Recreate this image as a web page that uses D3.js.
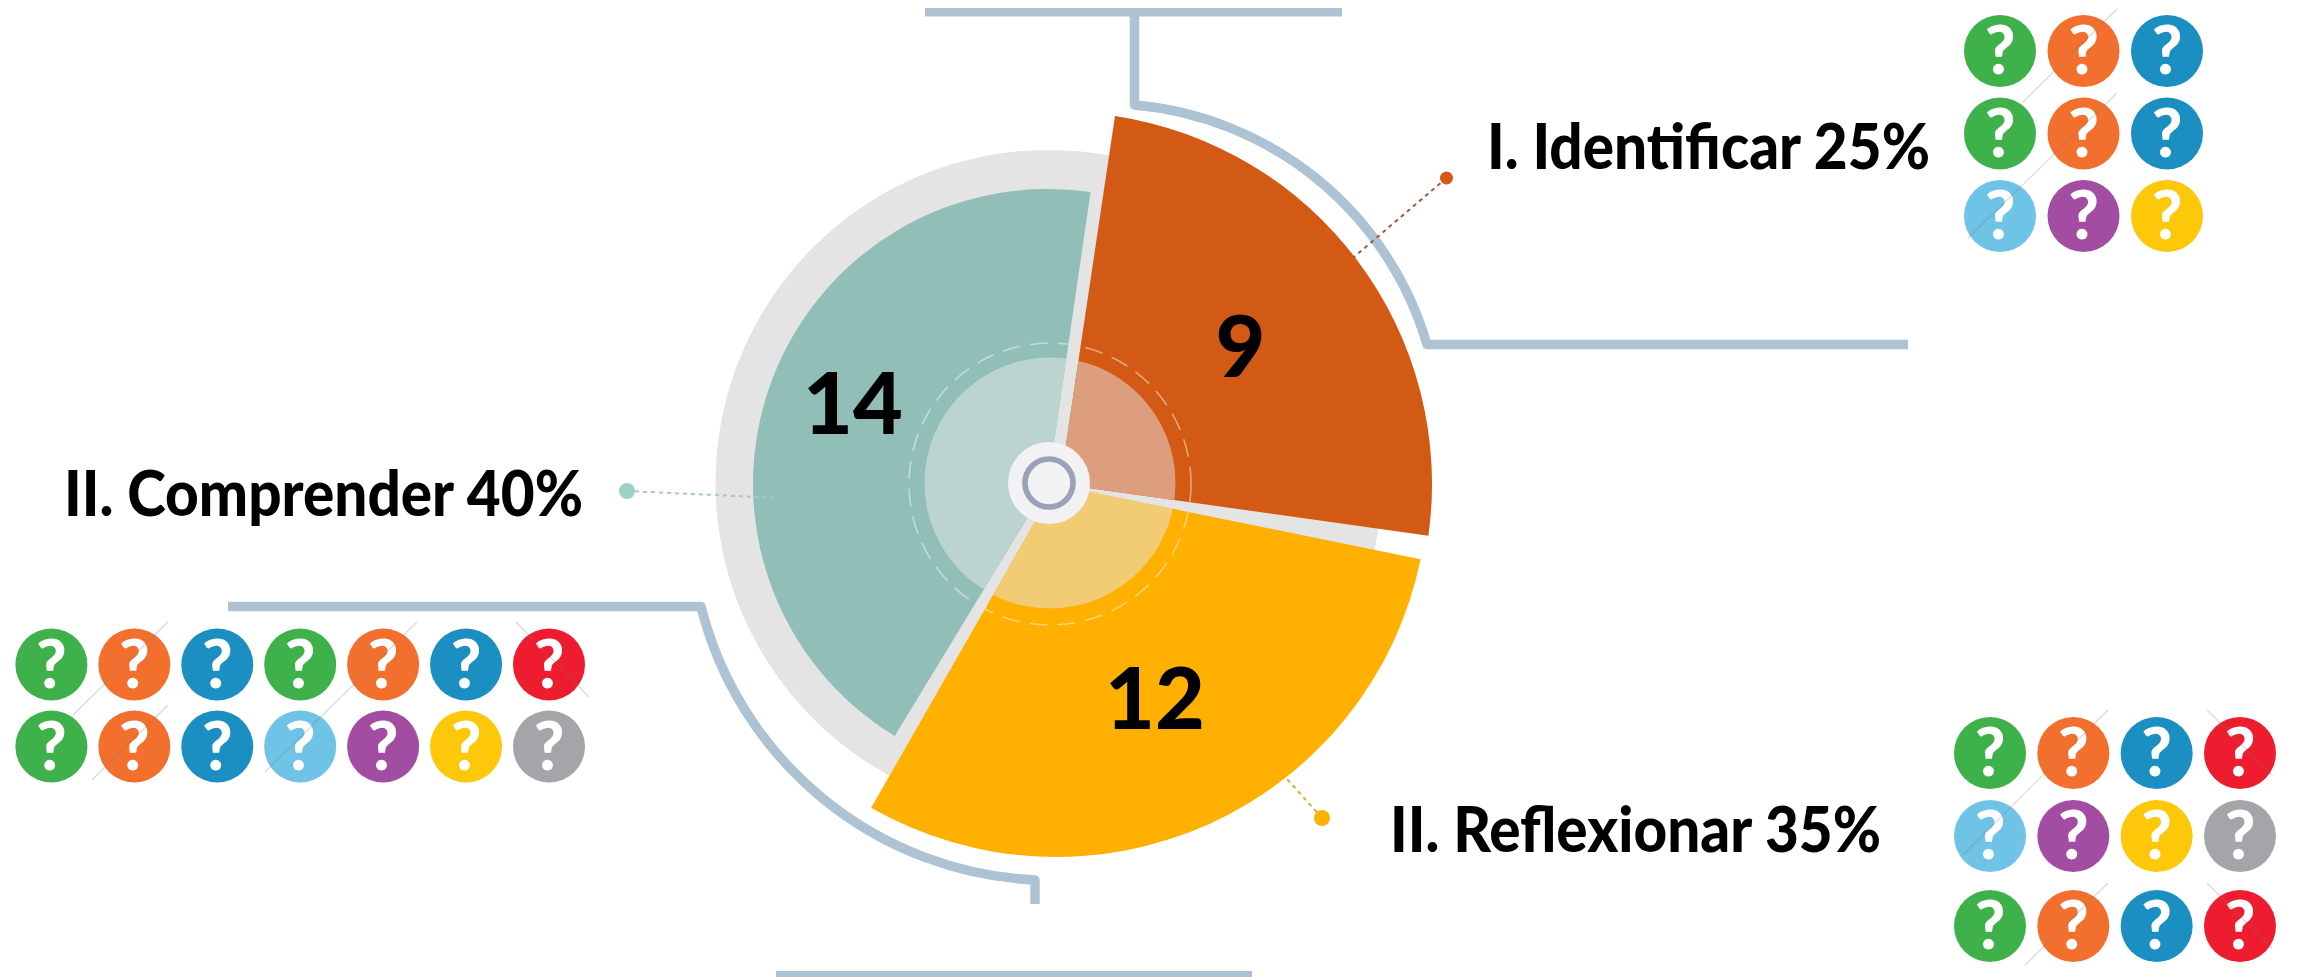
<!DOCTYPE html>
<html><head><meta charset="utf-8">
<script src="https://cdn.jsdelivr.net/npm/d3@7"></script>
<style>html,body{margin:0;padding:0;background:#fff;overflow:hidden}svg{display:block}text{font-family:Lato,"Open Sans",sans-serif}</style>
</head><body>
<svg id="chart" width="2301" height="977"></svg>
<script>
// ---- data ----
const categories = ["I. Identificar 25%", "II. Reflexionar 35%", "II. Comprender 40%"];
const counts = [9, 12, 14];
const startDegrees = [8.5, 101.5, 211.3];
const endDegrees = [98, 209.8, 368.3];
const wedgeColors = ["#d35a15", "#ffb000", "#91bfb7"];
const lightColors = ["#dc9e7c", "#f2cc75", "#bcd4d0"];
const leaderColors = ["#a8583a", "#e0a92e", "#a3c9c3"];
const dotColors = ["#d35a15", "#ffb000", "#9fd0c7"];
const iconsTopRight = ["green","orange","blue","green","orange","blue","sky","purple","yellow"];
const iconsLeft = ["green","orange","blue","green","orange","blue","red","green","orange","blue","sky","purple","yellow","gray"];
const iconsBottomRight = ["green","orange","blue","red","sky","purple","yellow","gray","green","orange","blue","red"];
const iconNames = ["green","orange","blue","red","sky","purple","yellow","gray"];
const iconHues = ["#3fb14a","#f26f2d","#1b8ec2","#ed1c2e","#6ec3e6","#a24da1","#fdc80a","#a3a5a8"];

// ---- layout ----
const hub = {x:1049, y:483};
const wedgeGeo = [{x:1060,y:484,r:372},{x:1056,y:485,r:372},{x:1048,y:484,r:295}];
const labelGeo = [
  {x:1487,y:169,w:443, dot:[1446.5,178,6.5], end:[1354,257], num:[1240.5,377]},
  {x:1390,y:852,w:491, dot:[1322,818,8], end:[1287,779], num:[1155,729]},
  {x:64,y:516,w:519, dot:[627,491,8], end:[779,498], num:[853,434]}
];
const svg = d3.select("#chart");
const hueOf = d3.scaleOrdinal(iconNames, iconHues);
const angle = d3.scaleLinear([0,360],[0,2*Math.PI]);
const wedges = categories.map((c,i)=>({name:c,count:counts[i],a0:angle(startDegrees[i]),a1:angle(endDegrees[i]),i,...wedgeGeo[i]}));
const arcOf = d => d3.arc().innerRadius(0).outerRadius(d.r).startAngle(d.a0).endAngle(d.a1)();

// decorative brackets
const bracket = svg.append("g").attr("fill","none").attr("stroke","#adc2d3");
bracket.append("path").attr("stroke-width",9.5).attr("stroke-linejoin","round")
  .attr("d","M1134.5,12 V105 A335,335 0 0 1 1427,344.5 H1908");
bracket.append("rect").attr("x",925).attr("y",8).attr("width",417).attr("height",8.5).attr("fill","#adc2d3").attr("stroke","none");
bracket.append("path").attr("stroke-width",9.5).attr("stroke-linejoin","round")
  .attr("d","M228,606.5 H701 A362,362 0 0 0 1035,880 V904");
bracket.append("rect").attr("x",776).attr("y",971).attr("width",476).attr("height",6).attr("fill","#adc2d3").attr("stroke","none");

// grey backing disc
svg.append("circle").attr("cx",hub.x-0.5).attr("cy",hub.y).attr("r",333).attr("fill","#e4e4e4");

// clip paths per wedge
const defs = svg.append("defs");
defs.selectAll("clipPath").data(wedges).join("clipPath").attr("id",d=>"w"+d.i)
  .append("path").attr("transform",d=>`translate(${d.x},${d.y})`).attr("d",arcOf);

// wedges
svg.append("g").selectAll("path").data(wedges).join("path")
  .attr("transform",d=>`translate(${d.x},${d.y})`).attr("d",arcOf).attr("fill",d=>wedgeColors[d.i]);

// inner light disc and dashed ring, clipped to each wedge
const inner = svg.append("g").selectAll("g").data(wedges).join("g").attr("clip-path",d=>`url(#w${d.i})`);
inner.append("circle").attr("cx",hub.x+1).attr("cy",hub.y).attr("r",125.5).attr("fill",d=>lightColors[d.i]);
inner.append("circle").attr("cx",hub.x+1).attr("cy",hub.y+1).attr("r",141).attr("fill","none")
  .attr("stroke","#ffffff").attr("stroke-opacity",.45).attr("stroke-width",1.6).attr("stroke-dasharray","18 10");

// hub
svg.append("circle").attr("cx",hub.x).attr("cy",hub.y).attr("r",41).attr("fill","#f2f2f4");
svg.append("circle").attr("cx",hub.x).attr("cy",hub.y).attr("r",24).attr("fill","none").attr("stroke","#9aa1b8").attr("stroke-width",5.7);

// leaders
const lead = svg.append("g").selectAll("g").data(wedges).join("g");
lead.append("line").attr("x1",d=>labelGeo[d.i].dot[0]).attr("y1",d=>labelGeo[d.i].dot[1])
  .attr("x2",d=>labelGeo[d.i].end[0]).attr("y2",d=>labelGeo[d.i].end[1])
  .attr("stroke",d=>leaderColors[d.i]).attr("stroke-width",2).attr("stroke-dasharray","4 4");
lead.append("circle").attr("cx",d=>labelGeo[d.i].dot[0]).attr("cy",d=>labelGeo[d.i].dot[1])
  .attr("r",d=>labelGeo[d.i].dot[2]).attr("fill",d=>dotColors[d.i]);

// numbers
svg.append("g").selectAll("text").data(wedges).join("text")
  .attr("x",d=>labelGeo[d.i].num[0]).attr("y",d=>labelGeo[d.i].num[1])
  .attr("text-anchor","middle").attr("font-size",86).attr("font-weight",900).attr("fill","#000")
  .text(d=>d.count);

// labels
svg.append("g").selectAll("text").data(wedges).join("text")
  .attr("x",d=>labelGeo[d.i].x).attr("y",d=>labelGeo[d.i].y)
  .attr("font-size",62).attr("font-weight",900).attr("fill","#000")
  .attr("textLength",d=>labelGeo[d.i].w).attr("lengthAdjust","spacingAndGlyphs")
  .text(d=>d.name);

// icon groups
const bottomRows = d3.scaleOrdinal([0,1,2],[753,836,926]);
const groups = [
  {names:iconsTopRight, cols:3, x:d3.scaleLinear([0,2],[2000,2167]), y:d3.scaleLinear([0,2],[51,216])},
  {names:iconsLeft, cols:7, x:d3.scaleLinear([0,6],[51.4,549]), y:d3.scaleLinear([0,1],[664.5,746.5])},
  {names:iconsBottomRight, cols:4, x:d3.scaleLinear([0,3],[1990,2240]), y:bottomRows}
];

// faint diagonals crossing the icons
const scratchStarts = [[2117,9,2023,102],[2117,93,1968,238],[168,622,73,715],[168,705,92,780],[417,622,265,772],[516,622,589,697],[2108,710,1963,855],[2207,710,2272,775],[2108,883,2025,965],[2207,883,2272,948]];

groups.forEach(g=>{
  const icon = svg.append("g").selectAll("g").data(g.names).join("g")
    .attr("transform",(d,i)=>`translate(${g.x(i%g.cols)},${g.y(Math.floor(i/g.cols))})`);
  icon.append("circle").attr("r",36).attr("fill",d=>hueOf(d));
  icon.append("text").attr("text-anchor","middle").attr("y",23).attr("font-size",66).attr("font-weight",900)
    .attr("fill","#fff").text("?");
});
svg.append("g").selectAll("line").data(scratchStarts).join("line")
  .attr("x1",d=>d[0]).attr("y1",d=>d[1]).attr("x2",d=>d[2]).attr("y2",d=>d[3])
  .attr("stroke","#7d7d7d").attr("stroke-opacity",.3).attr("stroke-width",1.2);
</script>
</body></html>
